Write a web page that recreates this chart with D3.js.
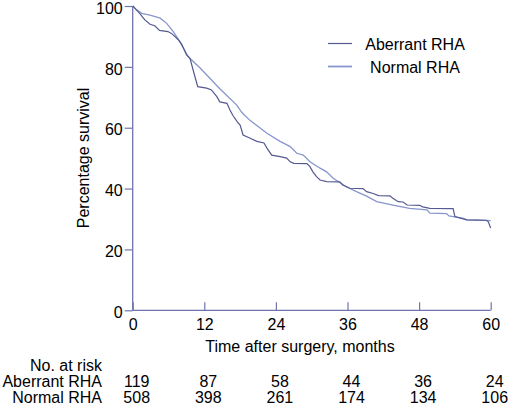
<!DOCTYPE html>
<html>
<head>
<meta charset="utf-8">
<script src="https://cdn.jsdelivr.net/npm/d3@7"></script>
<style>
  html, body { margin: 0; padding: 0; background: #fff; }
  svg { display: block; font-family: "Liberation Sans", Arial, Helvetica, sans-serif; }
</style>
</head>
<body>
<svg id="chart" width="510" height="413"></svg>
<script>
// ---- data ----
const seriesNames = ["Aberrant RHA", "Normal RHA"];
const xTicks = [0, 12, 24, 36, 48, 60];
const yTicks = [0, 20, 40, 60, 80, 100];

const aberrantT = [0, 0.5, 1.2, 2.0, 2.9, 3.7, 4.5, 5.9, 6.5, 7.6, 8.2, 9.0, 9.6, 10.4, 10.9, 12.4, 13.2, 14.1, 14.6, 15.8, 16.3, 16.8, 17.5, 18.0, 18.5, 19.6, 20.8, 22.0, 22.5, 23.3, 24.7, 25.8, 26.4, 27.0, 29.2, 29.7, 30.2, 30.8, 31.4, 32.5, 34.7, 35.2, 36.4, 38.6, 39.2, 40.3, 41.2, 43.1, 43.6, 44.5, 45.3, 46.0, 48.1, 48.6, 49.8, 53.7, 54.0, 55.1, 56.0, 59.3, 59.6, 60];
const aberrantS = [100, 99, 97.5, 95.5, 94, 93.5, 92, 91.6, 91, 89, 87.5, 84, 82.8, 77, 73.5, 73, 72.4, 70.2, 68.5, 68, 65.8, 64, 62, 60.9, 57.6, 56.6, 55.5, 55, 53.3, 51, 50.5, 50, 48.8, 48.3, 48.2, 47.2, 45.5, 43.9, 42.8, 42.3, 42.2, 41.2, 40.1, 40, 39, 38.4, 37.7, 37.6, 36.8, 35.7, 35.6, 34.6, 34.5, 34, 33.5, 33.4, 30.8, 30.2, 29.7, 29.6, 29.1, 27];

const normalT = [0, 0.5, 1.5, 2.9, 4.6, 5.7, 6.8, 7.9, 9.3, 11.3, 14.6, 17.4, 18.3, 19.6, 21.3, 22.5, 24.7, 26.4, 27.5, 28.6, 29.7, 31.4, 32.5, 33.6, 35.8, 37.5, 39.2, 40.9, 43.6, 46.4, 49.3, 49.8, 52.6, 53.0, 55.4, 56.0, 60];
const normalS = [100, 99, 97.6, 97, 96, 94.3, 91.6, 88.3, 83.3, 79.6, 72.8, 67.5, 65, 62.5, 60, 58.2, 55.5, 53.8, 51.6, 51, 48.8, 46.7, 45.5, 43.4, 40.6, 39, 37.5, 35.7, 34.6, 33.5, 33, 31.9, 31.8, 31, 30.2, 29.7, 29.5];

const atRiskAberrant = [119, 87, 58, 44, 36, 24];
const atRiskNormal = [508, 398, 261, 174, 134, 106];

// ---- layout ----
const svg = d3.select("#chart");
const fontSize = 16;
const axisColor = "#6f74ad";
const colors = ["#555a92", "#8796cc"];

const x = d3.scaleLinear().domain([0, 60]).range([132.7, 490.7]);
const y = d3.scaleLinear().domain([0, 100]).range([310.3, 6]);

// y axis
const yAxis = svg.append("g").attr("transform", `translate(${x(0)},0)`)
  .call(d3.axisLeft(y).tickValues(yTicks).tickSize(8).tickPadding(2));
// x axis
const xAxis = svg.append("g").attr("transform", `translate(0,${y(0)})`)
  .call(d3.axisBottom(x).tickValues(xTicks).tickSize(8).tickPadding(1));
[xAxis, yAxis].forEach(g => {
  g.select(".domain").attr("stroke", axisColor).attr("stroke-width", 1.3);
  g.selectAll(".tick line").attr("stroke", axisColor).attr("stroke-width", 1.2);
  g.selectAll(".tick text").attr("fill", "#000").attr("font-size", fontSize)
    .attr("font-family", "Liberation Sans, Arial, sans-serif");
});
// x tick marks point up into the plot as in the reference
xAxis.selectAll(".tick line").attr("y2", -8);
xAxis.selectAll(".tick text").attr("y", 8);
yAxis.selectAll(".tick text").attr("dy", "0.45em");
xAxis.select(".domain").attr("d", `M${x(0)},0H${x(60)}`);
yAxis.select(".domain").attr("d", `M0,${y(0)}V${y(100)}`);

// axis titles
svg.append("text").attr("x", 300).attr("y", 352).attr("text-anchor", "middle")
  .attr("font-size", fontSize).text("Time after surgery, months");
svg.append("text").attr("transform", `translate(89,158) rotate(-90)`)
  .attr("text-anchor", "middle").attr("font-size", fontSize).text("Percentage survival");

// curves
const line = d3.line().x(d => x(d[0])).y(d => y(d[1])).curve(d3.curveLinear);
const dataA = aberrantT.map((t, i) => [t, aberrantS[i]]);
const dataN = normalT.map((t, i) => [t, normalS[i]]);
svg.append("path").datum(dataN).attr("d", line).attr("fill", "none")
  .attr("stroke", colors[1]).attr("stroke-width", 1.3);
svg.append("path").datum(dataA).attr("d", line).attr("fill", "none")
  .attr("stroke", colors[0]).attr("stroke-width", 1.2);

// legend
const legY = [43.5, 66.5];
seriesNames.forEach((name, i) => {
  svg.append("line").attr("x1", 328).attr("x2", 352).attr("y1", legY[i]).attr("y2", legY[i])
    .attr("stroke", colors[i]).attr("stroke-width", i === 0 ? 1.2 : 1.8);
  svg.append("text").attr("x", 415).attr("y", legY[i] + 6).attr("text-anchor", "middle")
    .attr("font-size", fontSize).text(name);
});

// number at risk table
svg.append("text").attr("x", 102).attr("y", 371).attr("text-anchor", "end")
  .attr("font-size", fontSize).text("No. at risk");
const rows = [atRiskAberrant, atRiskNormal];
const rowY = [387, 402.5];
rows.forEach((vals, r) => {
  svg.append("text").attr("x", 102).attr("y", rowY[r]).attr("text-anchor", "end")
    .attr("font-size", fontSize).text(seriesNames[r]);
  svg.selectAll(null).data(vals).enter().append("text")
    .attr("x", (d, i) => x(xTicks[i]) + 4).attr("y", rowY[r])
    .attr("text-anchor", "middle").attr("font-size", fontSize).text(d => d);
});
</script>
</body>
</html>
